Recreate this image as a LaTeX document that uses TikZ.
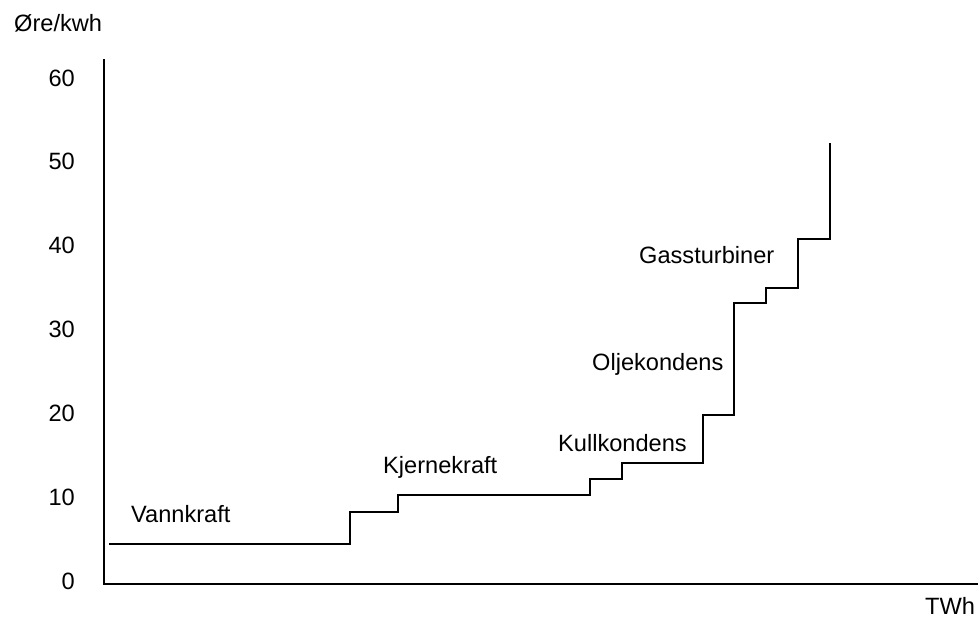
\documentclass[tikz,border=0pt]{standalone}
\usepackage{fontspec}
\setmainfont{Liberation Sans}
\begin{document}
\begin{tikzpicture}[x=1pt,y=-1pt,
  lbl/.style={inner sep=0pt,anchor=base west,font=\fontsize{23.6}{28}\selectfont},
  tick/.style={inner sep=0pt,anchor=base east,font=\fontsize{23.6}{28}\selectfont},
  axis/.style={line width=1.7pt,line cap=rect},
  curve/.style={line width=1.9pt,line join=miter}]
\useasboundingbox (0,0) rectangle (978,617);

% axes
\coordinate (ytop) at (104,60);
\coordinate (orig) at (104,584);
\coordinate (xend) at (978,584);
\draw[axis] (ytop) -- (orig) -- (xend);

% axis titles
\node[lbl] (ylab) at (14,32) {Øre/kwh};
\node[lbl] (xlab) at (925,614) {TWh};

% tick labels
\foreach \v [count=\i from 0] in {0,10,20,30,40,50,60}
  \node[tick] (t\v) at (75,{589-83.8*\i}) {\v};

% merit-order supply staircase
\draw[curve] (109,544) -- (350,544) -- (350,512) -- (398,512) -- (398,495)
  -- (590,495) -- (590,479) -- (622,479) -- (622,463) -- (703,463)
  -- (703,415) -- (734,415) -- (734,303) -- (766,303) -- (766,288)
  -- (798,288) -- (798,239) -- (830,239) -- (830,143);

% technology labels
\node[lbl] (vann) at (131,523) {Vannkraft};
\node[lbl] (kjerne) at (383,474) {Kjernekraft};
\node[lbl] (kull) at (558,452) {Kullkondens};
\node[lbl] (olje) at (592,371) {Oljekondens};
\node[lbl] (gass) at (639,264) {Gassturbiner};
\end{tikzpicture}
\end{document}
